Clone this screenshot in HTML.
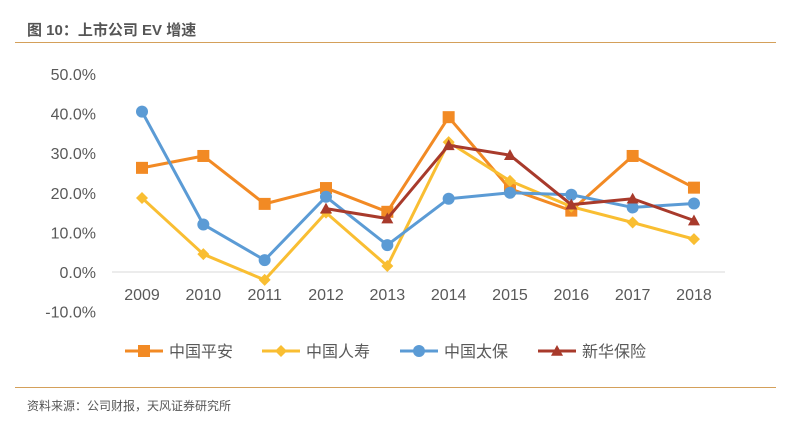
<!DOCTYPE html>
<html><head><meta charset="utf-8"><style>
body{margin:0;background:#fff;width:791px;height:428px;overflow:hidden;font-family:"Liberation Sans","Noto Sans CJK SC",sans-serif}
</style></head><body>
<div style="position:absolute;left:27px;top:19px;font-size:15px;font-weight:bold;color:#555">图 10：上市公司 EV 增速</div>
<div style="position:absolute;left:15px;top:42px;width:761px;height:1px;background:#D4A05A"></div>
<svg id="c" width="791" height="428" style="position:absolute;left:0;top:0"></svg>
<div style="position:absolute;left:15px;top:387px;width:761px;height:1px;background:#D4A05A"></div>
<div style="position:absolute;left:27px;top:397px;font-size:12px;color:#555">资料来源：公司财报，天风证券研究所</div>
<script>
const years=["2009","2010","2011","2012","2013","2014","2015","2016","2017","2018"];
const yTicks=[-10,0,10,20,30,40,50];
const pingan=[26.3,29.3,17.2,21.2,15.2,39.1,21,15.5,29.3,21.3];
const chinalife=[18.7,4.5,-2,15,1.5,32.8,23,16.5,12.5,8.3];
const cpic=[40.5,12,3,19,6.8,18.5,20,19.5,16.3,17.3];
const nci=[null,null,null,16,13.5,32,29.5,17,18.5,13];
const names=["中国平安","中国人寿","中国太保","新华保险"];
const colors=["#F28A24","#F9BE32","#5B9BD5","#A83A2B"];
const series=[pingan,chinalife,cpic,nci];
const shapes=["square","diamond","circle","triangle"];
const svg=document.getElementById('c');const NS="http://www.w3.org/2000/svg";
const X=i=>142+i*61.33;const Y=v=>272-v*3.96;
function mk(t,a,p){const e=document.createElementNS(NS,t);for(const k in a)e.setAttribute(k,a[k]);(p||svg).appendChild(e);return e;}
yTicks.forEach(t=>{const e=mk('text',{x:96,y:Y(t)+6,'text-anchor':'end','font-size':16,fill:'#595959'});e.textContent=t.toFixed(1)+'%';

});
const ax=mk('line',{x1:112,x2:725,y1:Y(0),y2:Y(0),stroke:'#D9D9D9','stroke-width':1});


years.forEach((y,i)=>{const e=mk('text',{x:X(i),y:300,'text-anchor':'middle','font-size':16,fill:'#595959'});e.textContent=y;

});
function marker(s,x,y,c,g,r){r=r||6;
if(s==='square')return mk('rect',{x:x-r,y:y-r,width:2*r,height:2*r,fill:c},g);
if(s==='diamond')return mk('polygon',{points:`${x},${y-r} ${x+r},${y} ${x},${y+r} ${x-r},${y}`,fill:c},g);
if(s==='circle')return mk('circle',{cx:x,cy:y,r:r,fill:c},g);
return mk('polygon',{points:`${x},${y-r} ${x+r},${y+r*0.8} ${x-r},${y+r*0.8}`,fill:c},g);}
series.forEach((d,si)=>{const g=mk('g',{});


let pts=[];d.forEach((v,i)=>{if(v!==null)pts.push([X(i),Y(v)]);});
mk('polyline',{points:pts.map(p=>p.join(',')).join(' '),fill:'none',stroke:colors[si],'stroke-width':3,'stroke-linejoin':'round'},g);
pts.forEach(p=>{const m=marker(shapes[si],p[0],p[1],colors[si],g);

});});
const lx=[125,262,400,538];
names.forEach((n,i)=>{const g=mk('g',{});


mk('line',{x1:lx[i],x2:lx[i]+38,y1:351,y2:351,stroke:colors[i],'stroke-width':3},g);
marker(shapes[i],lx[i]+19,351,colors[i],g);
const t=mk('text',{x:lx[i]+44,y:357,'font-size':16,fill:'#595959'},g);t.textContent=n;});
</script>
</body></html>
